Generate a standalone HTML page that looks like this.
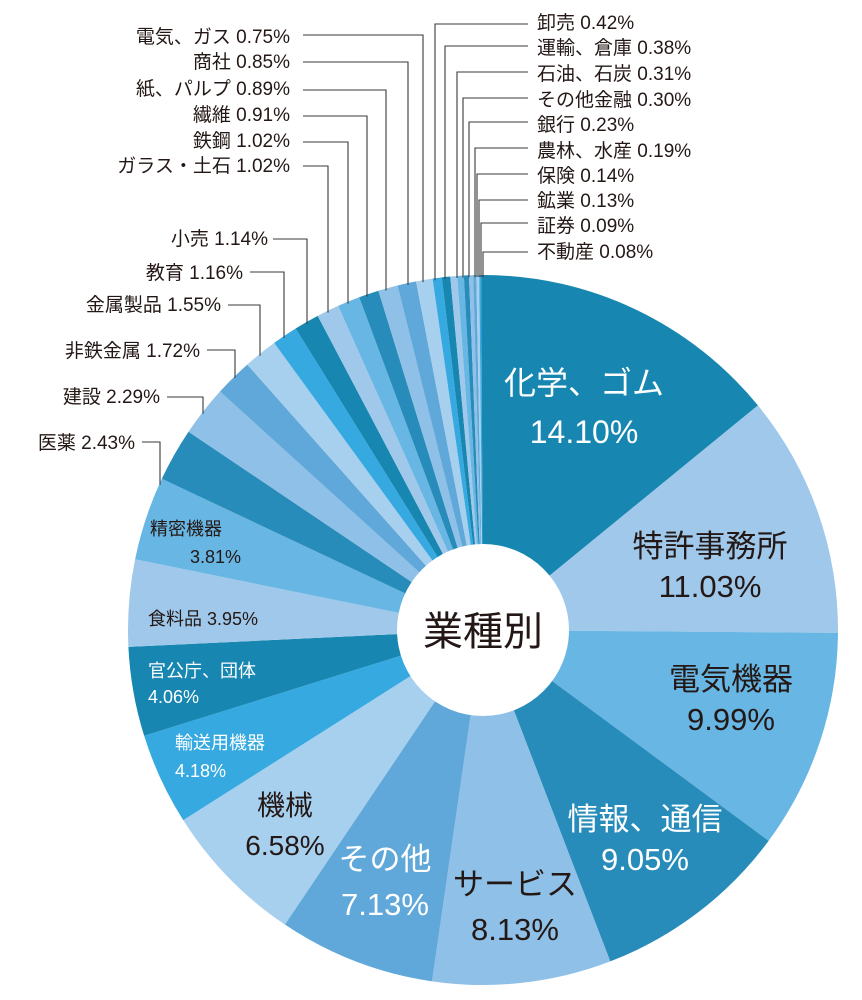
<!DOCTYPE html>
<html><head><meta charset="utf-8"><style>
body{margin:0;background:#fff}
svg{display:block}
text{font-family:"Liberation Sans","Noto Sans CJK JP",sans-serif}
.l{font-size:19px;fill:#231815}
.w{fill:#fff}
</style></head><body>
<svg id="s" width="862" height="1000" viewBox="0 0 862 1000">
<g id="pie"></g><g id="lead" stroke="#3a3a3a" stroke-width="1.1" fill="none"></g>
<circle cx="483" cy="630" r="86" fill="#fff"/>
<text x="483" y="645" font-size="40" text-anchor="middle" fill="#231815">業種別</text>
<g class="l" text-anchor="end">
<text x="290" y="43">電気、ガス 0.75%</text>
<text x="290" y="68">商社 0.85%</text>
<text x="290" y="95">紙、パルプ 0.89%</text>
<text x="290" y="121">繊維 0.91%</text>
<text x="290" y="147">鉄鋼 1.02%</text>
<text x="290" y="172">ガラス・土石 1.02%</text>
<text x="268" y="245">小売 1.14%</text>
<text x="243" y="279">教育 1.16%</text>
<text x="221" y="311">金属製品 1.55%</text>
<text x="200" y="357">非鉄金属 1.72%</text>
<text x="160" y="403">建設 2.29%</text>
<text x="135" y="449">医薬 2.43%</text>
</g>
<g class="l">
<text x="537" y="29">卸売 0.42%</text>
<text x="537" y="54">運輸、倉庫 0.38%</text>
<text x="537" y="80">石油、石炭 0.31%</text>
<text x="537" y="106">その他金融 0.30%</text>
<text x="537" y="131">銀行 0.23%</text>
<text x="537" y="157">農林、水産 0.19%</text>
<text x="537" y="182">保険 0.14%</text>
<text x="537" y="207">鉱業 0.13%</text>
<text x="537" y="232">証券 0.09%</text>
<text x="537" y="258">不動産 0.08%</text>
</g>
<g text-anchor="middle" font-size="32">
<text x="584" y="394" class="w">化学、ゴム</text>
<text x="584" y="443" class="w">14.10%</text>
<text x="710" y="557" fill="#231815" font-size="31">特許事務所</text>
<text x="710" y="597" fill="#231815" font-size="31">11.03%</text>
<text x="731" y="690" fill="#231815" font-size="31">電気機器</text>
<text x="731" y="730" fill="#231815" font-size="31">9.99%</text>
<text x="645" y="830" class="w" font-size="31">情報、通信</text>
<text x="645" y="870" class="w" font-size="31">9.05%</text>
<text x="515" y="895" fill="#231815" font-size="31">サービス</text>
<text x="515" y="940" fill="#231815" font-size="31">8.13%</text>
<text x="385" y="870" class="w" font-size="31">その他</text>
<text x="385" y="915" class="w" font-size="31">7.13%</text>
<text x="285" y="815" fill="#231815" font-size="28">機械</text>
<text x="285" y="855" fill="#231815" font-size="28">6.58%</text>
</g>
<g font-size="18">
<text x="175" y="749" class="w">輸送用機器</text>
<text x="175" y="777" class="w">4.18%</text>
<text x="148" y="677" class="w">官公庁、団体</text>
<text x="148" y="703" class="w">4.06%</text>
<text x="148" y="625" fill="#231815">食料品 3.95%</text>
<text x="150" y="535" fill="#231815">精密機器</text>
<text x="190" y="563" fill="#231815">3.81%</text>
</g>
</svg>
<script>
var v=[14.10,11.03,9.99,9.05,8.13,7.13,6.58,4.18,4.06,3.95,3.81,2.43,2.29,1.72,1.55,1.16,1.14,1.02,1.02,0.91,0.89,0.85,0.75,0.42,0.38,0.31,0.30,0.23,0.19,0.14,0.13,0.09,0.08];
var c=["#1786b0","#9fc8ea","#68b6e4","#288cba","#8fc0e7","#5fa8d9","#a7cfee","#35a9e0"];
var tot=v.reduce(function(a,b){return a+b},0),cx=483,cy=630,r=355,a=0,h="";
function p(t){return [cx+r*Math.sin(t),cy-r*Math.cos(t)]}
v.forEach(function(x,i){var t0=a/tot*2*Math.PI;a+=x;var t1=a/tot*2*Math.PI;var A=p(t0),B=p(t1);
h+='<path fill="'+c[i%8]+'" d="M'+cx+','+cy+'L'+A[0]+','+A[1]+'A'+r+','+r+' 0 '+((t1-t0)>Math.PI?1:0)+' 1 '+B[0]+','+B[1]+'Z"/>';});
document.getElementById('pie').innerHTML=h;
function ry(x){return cy-Math.sqrt(r*r-(x-cx)*(x-cx))+2}
var L=[[303,35,423],[303,62,408],[303,90,386],[303,116,367],[303,142,348],[303,166,328],[273,239,307],[250,272,284],[228,305,260],[207,350,235],[167,397,203],[142,442,160]];
var R=[[528,24,435],[528,46,445],[528,72,457],[528,98,463],[528,122,469],[528,148,475],[528,174,477],[528,200,479],[528,223,481],[528,252,483]];
var g="";L.concat(R).forEach(function(q){g+='<polyline points="'+q[0]+','+q[1]+' '+q[2]+','+q[1]+' '+q[2]+','+ry(q[2])+'"/>';});
document.getElementById('lead').innerHTML=g;
</script>
</body></html>
